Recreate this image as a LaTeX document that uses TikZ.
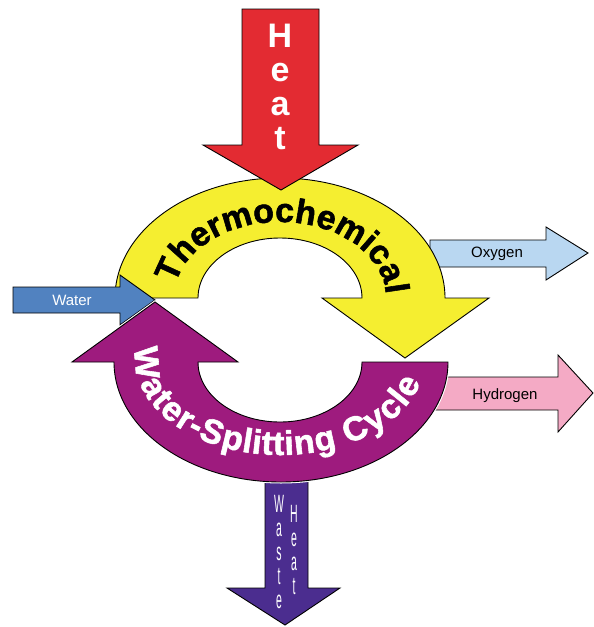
\documentclass[tikz,border=0pt]{standalone}
\usepackage{fontspec}
\setmainfont{Liberation Sans}
\newfontfamily\heavyfont[FakeBold=1.6]{Liberation Sans Bold}
\usetikzlibrary{decorations.text}
\definecolor{heatred}{HTML}{E32B32}
\definecolor{thermoyellow}{HTML}{F5EE30}
\definecolor{cyclepurple}{HTML}{9E1B7E}
\definecolor{wastepurple}{HTML}{4B2D8F}
\definecolor{waterblue}{HTML}{5182C0}
\definecolor{oxyblue}{HTML}{B9D7F1}
\definecolor{hydropink}{HTML}{F4AAC5}
\tikzset{
  shapeline/.style={draw=black, line width=0.9pt, line join=miter},
  smalllabel/.style={font=\fontsize{15}{18}\selectfont, inner sep=0pt},
  narrowstack/.style={inner sep=0pt, text=white, align=center, font=\fontsize{25}{24}\selectfont},
}
\begin{document}
\begin{tikzpicture}[x=1pt,y=-1pt]
\useasboundingbox (0,0) rectangle (594,627);
% Oxygen arrow (behind yellow)
\path[shapeline, fill=oxyblue] (430,240) -- (546,240) -- (546,227) -- (588,253) -- (546,280) -- (546,267) -- (430,267) -- cycle;
\node[smalllabel, text=black] (oxy) at (497,254) {Oxygen};
% Hydrogen arrow (behind purple)
\path[shapeline, fill=hydropink] (430,377) -- (558,377) -- (558,355) -- (593,393) -- (558,432) -- (558,410) -- (430,410) -- cycle;
\node[smalllabel, text=black] (hyd) at (505,396) {Hydrogen};
% Waste heat arrow (behind purple)
\path[shapeline, fill=wastepurple] (265,470) -- (308,470) -- (308,588) -- (340,588) -- (285,625) -- (227,588) -- (265,588) -- cycle;
\node[narrowstack] (waste) at (279,552)
  {\scalebox{0.42}[1]{\parbox{30pt}{\centering W\\a\\s\\t\\e}}};
\node[narrowstack] (wheat) at (294,550)
  {\scalebox{0.42}[1]{\parbox{30pt}{\centering H\\e\\a\\t}}};
% Yellow arc arrow
\path[shapeline, fill=thermoyellow] (115,298) arc[start angle=180, end angle=360, x radius=165, y radius=120]
  -- (489,298) -- (405,358) -- (322,298) -- (362,298)
  arc[start angle=360, end angle=180, x radius=82, y radius=60] -- cycle;
\path[decorate, decoration={text along path, text align=center,
  text={|\heavyfont\fontsize{34}{36}\selectfont|Thermochemical}}]
  (280,298) ++(184:106 and 76) arc[start angle=184, end angle=364, x radius=106, y radius=76];
% Water arrow
\path[shapeline, fill=waterblue] (13,287) -- (120,287) -- (120,275) -- (155,300) -- (120,325) -- (120,313) -- (13,313) -- cycle;
\node[smalllabel, text=white] (water) at (72,300) {Water};
% Purple arc arrow
\path[shapeline, fill=cyclepurple, preaction={draw=white, line width=3pt}] (448,362) arc[start angle=0, end angle=180, x radius=167, y radius=120]
  -- (72,362) -- (155,302) -- (238,362) -- (198,362)
  arc[start angle=180, end angle=0, x radius=82, y radius=60] -- cycle;
\path[decorate, decoration={text along path, text align=center, text color=white, raise=-11pt,
  text={|\heavyfont\fontsize{34}{36}\selectfont|Water-Splitting Cycle}}]
  (280,358) ++(200:134 and 86) arc[start angle=200, end angle=0, x radius=134, y radius=86];
% Heat arrow
\path[shapeline, fill=heatred] (242,9) -- (319,9) -- (319,145) -- (358,145) -- (281,190) -- (203,145) -- (242,145) -- cycle;
\node[inner sep=0pt, text=white, align=center, font=\bfseries\fontsize{34}{36}\selectfont] (heat) at (280,87)
  {\parbox{30pt}{\centering H\\[-2pt]e\\[-2pt]a\\[-2pt]t}};
\end{tikzpicture}
\end{document}
